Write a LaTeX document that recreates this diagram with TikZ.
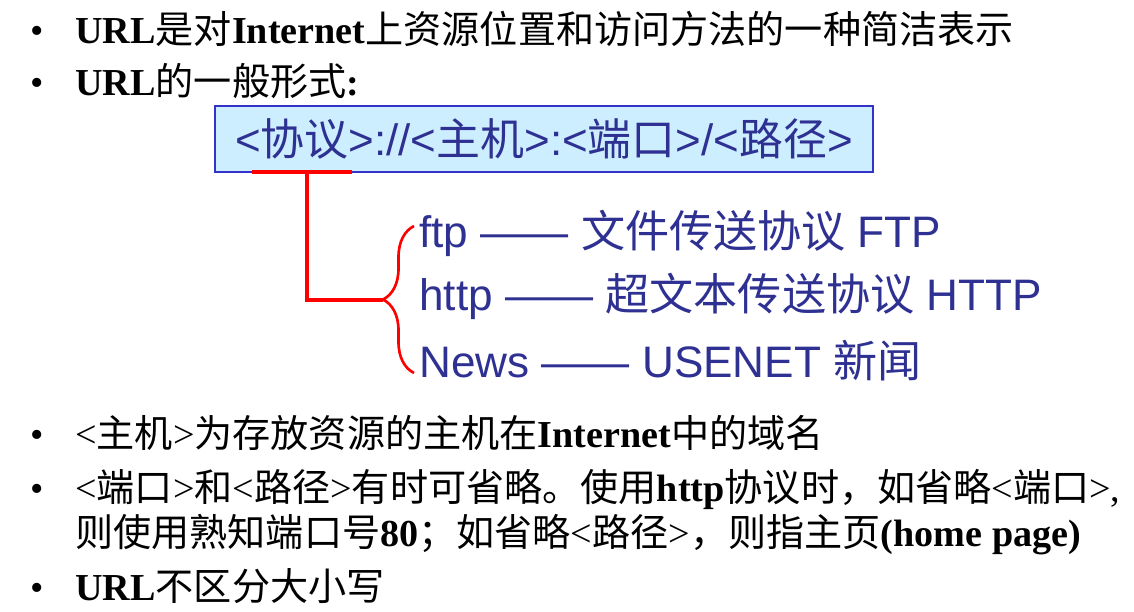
\documentclass[tikz,border=0pt]{standalone}
\usepackage{fontspec}
\setmainfont{Liberation Serif}
\newfontfamily\cjk{Noto Sans CJK SC}
\newfontfamily\arialf{Liberation Sans}
\usetikzlibrary{decorations.pathreplacing}
\definecolor{urlblue}{HTML}{2E3192}
\definecolor{boxfill}{HTML}{CCEEFF}
\definecolor{boxline}{HTML}{3333CC}
\newcommand{\zh}[1]{{\cjk #1}}
\tikzset{
    bul/.style={anchor=base, inner sep=0pt, font=\fontsize{21.7}{26}\selectfont},
    txt/.style={anchor=base west, inner sep=0pt, font=\fontsize{21.7}{26}\selectfont},
    protocol/.style={anchor=base west, inner sep=0pt, text=urlblue, font=\arialf\fontsize{25.1}{30}\selectfont},
    redline/.style={draw=red, line width=2.3pt},
    redbrace/.style={draw=red, line width=1.5pt, decorate, decoration={brace, amplitude=0.62cm}}
}
\begin{document}
\begin{tikzpicture}[x=0.02cm, y=-0.02cm]
        \useasboundingbox (0,0) rectangle (1134,612);

        % Bullets of the list
        \foreach \y/\n in {43/1, 95/2, 447/3, 501/4, 600/6}
            \node[bul] (dot\n) at (37,\y) {•};

        % Text of the list
        \node[txt] (b1) at (75,43) {\textbf{URL}\zh{是对}\textbf{Internet}\zh{上资源位置和访问方法的一种简洁表示}};
        \node[txt] (b2) at (75,95) {\textbf{URL}\zh{的一般形式}\textbf{:}};
        \node[txt] (b3) at (75,447) {<\zh{主机}>\zh{为存放资源的主机在}\textbf{Internet}\zh{中的域名}};
        \node[txt] (b4) at (75,501) {<\zh{端口}>\zh{和}<\zh{路径}>\zh{有时可省略。使用}\textbf{http}\zh{协议时，如省略}<\zh{端口}>,};
        \node[txt] (b5) at (75,546) {\zh{则使用熟知端口号}\textbf{80}\zh{；如省略}<\zh{路径}>\zh{，则指主页}\textbf{(home page)}};
        \node[txt] (b6) at (75,600) {\textbf{URL}\zh{不区分大小写}};

        % The general form of a URL
        \node[draw=boxline, fill=boxfill, line width=0.8pt, minimum width=13.16cm, minimum height=1.32cm,
              text=urlblue, font=\arialf\fontsize{25}{30}\selectfont] (url) at (544,139)
              {<\zh{协议}>://<\zh{主机}>:<\zh{端口}>/<\zh{路径}>};

        % The protocols
        \node[protocol] (ftp) at (419,247) {ftp —— \zh{文件传送协议} FTP};
        \node[protocol] (http) at (419,310) {http —— \zh{超文本传送协议} HTTP};
        \node[protocol] (news) at (419,377) {News —— USENET \zh{新闻}};

        % Underline of the protocol and the line to the brace
        \coordinate (protoL) at (252,172);
        \coordinate (protoR) at (352,172);
        \coordinate (protoM) at (307,172);
        \coordinate (brtip) at (383,300);
        \draw[redline] (protoL) -- (protoR);
        \draw[redline] (protoM) |- (brtip);

        % Brace round the protocols
        \coordinate (brbot) at (414,373);
        \coordinate (brtop) at (414,226);
        \draw[redbrace] (brbot) -- (brtop);
\end{tikzpicture}
\end{document}
